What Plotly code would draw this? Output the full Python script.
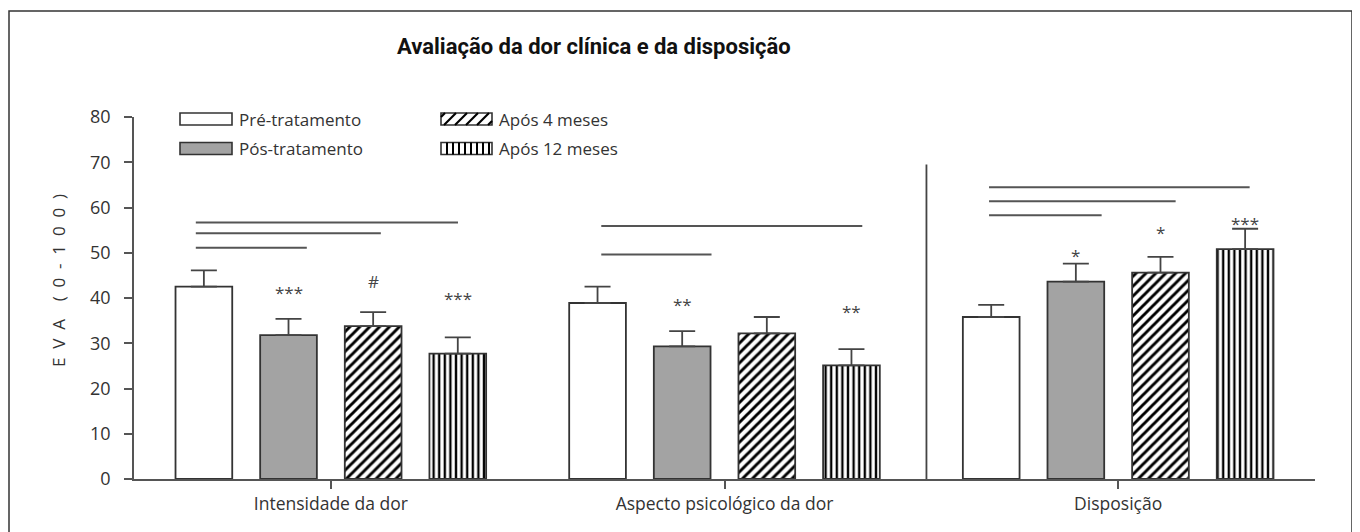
import plotly.graph_objects as go

# ---------------- data ----------------
categories = ["Intensidade da dor", "Aspecto psicológico da dor", "Disposição"]
series_names = ["Pré-tratamento", "Pós-tratamento", "Após 4 meses", "Após 12 meses"]

pre_vals = [42.5, 38.9, 35.8]
pos_vals = [31.8, 29.3, 43.6]
m4_vals = [33.8, 32.2, 45.6]
m12_vals = [27.7, 25.1, 50.8]

pre_err = [3.6, 3.6, 2.7]
pos_err = [3.6, 3.4, 4.0]
m4_err = [3.1, 3.6, 3.5]
m12_err = [3.6, 3.6, 4.5]

# significance marks above bars (per category)
pos_marks = ["***", "**", "*"]
m4_marks = ["#", "", "*"]
m12_marks = ["***", "**", "***"]
pos_mark_y = [41.2, 38.6, 49.4]
m4_mark_y = [43.7, None, 54.4]
m12_mark_y = [40.0, 37.0, 56.5]

# comparison lines: (start x, end x, y) in category units
cmp_x0 = [-0.343, -0.343, -0.343, 0.687, 0.687, 1.672, 1.672, 1.672]
cmp_x1 = [-0.061, 0.127, 0.323, 0.967, 1.350, 1.958, 2.146, 2.334]
cmp_y = [51.1, 54.3, 56.7, 49.6, 55.9, 58.3, 61.4, 64.5]

separator_x = 1.513
separator_top = 69.5

y_ticks = [0, 10, 20, 30, 40, 50, 60, 70, 80]

# ---------------- style ----------------
FONT = "Open Sans, Noto Sans, sans-serif"
TFONT = "Roboto, Open Sans, sans-serif"
TXT = "#333333"
EDGE = "#333333"
GREY = "#a3a3a3"

OFF = 8  # page body margin
L, R, T, B = 134 - OFF, 1315 - OFF, 117 - OFF, 479 - OFF
W, H = R - L, B - T


def px(x):
    return (x - OFF - L) / W


def py(y):
    return (B - (y - OFF)) / H


fig = go.Figure()

vals = [pre_vals, pos_vals, m4_vals, m12_vals]
errs = [pre_err, pos_err, m4_err, m12_err]
patterns = [
    dict(shape=""),
    dict(shape=""),
    dict(shape="/", fgcolor="#000000", bgcolor="white", size=7, solidity=0.42, fgopacity=1),
    dict(shape="|", fgcolor="#000000", bgcolor="white", size=5.6, solidity=0.42, fgopacity=1),
]
fills = ["white", GREY, "white", "white"]

for i in range(4):
    fig.add_trace(go.Bar(
        x=categories, y=vals[i], name=series_names[i],
        marker=dict(color=fills[i], line=dict(color=EDGE, width=1.8), pattern=patterns[i]),
        error_y=dict(type="data", symmetric=False, array=errs[i], arrayminus=[0] * 3,
                     color="#444444", thickness=1.8, width=13),
        showlegend=False,
    ))

BARGAP = 0.14
slot = (1 - BARGAP) / 4
offsets = [-(1 - BARGAP) / 2 + slot * (i + 0.5) for i in range(4)]

annotations = []
for si, (marks, ys) in zip([1, 2, 3], [(pos_marks, pos_mark_y), (m4_marks, m4_mark_y), (m12_marks, m12_mark_y)]):
    for ci in range(3):
        if marks[ci] and ys[ci] is not None:
            annotations.append(dict(
                x=ci + offsets[si], y=ys[ci], xref="x", yref="y",
                text=marks[ci], showarrow=False,
                font=dict(family=FONT, size=17, color="#444444"),
                yanchor="middle"))

shapes = []
for x0, x1, y in zip(cmp_x0, cmp_x1, cmp_y):
    shapes.append(dict(type="line", xref="x", yref="y", x0=x0, x1=x1, y0=y, y1=y,
                       line=dict(color="#555555", width=2)))
shapes.append(dict(type="line", xref="x", yref="y", x0=separator_x, x1=separator_x,
                   y0=0, y1=separator_top, line=dict(color="#444444", width=1.8)))

# outer frame
shapes.append(dict(type="rect", xref="paper", yref="paper", x0=px(9), x1=px(1352),
                   y0=py(560), y1=py(11), line=dict(color="#333333", width=1.5)))

# ---- legend (drawn manually) ----
sw = [(180, 232, 113, 125), (180, 232, 142.5, 154.5), (441, 492, 113, 125), (441, 492, 142.5, 154.5)]
for i, (x0, x1, y0, y1) in enumerate(sw):
    shapes.append(dict(type="rect", xref="paper", yref="paper", x0=px(x0), x1=px(x1),
                       y0=py(y1), y1=py(y0), fillcolor=fills[i],
                       line=dict(color=EDGE, width=1.6)))
# diagonal hatching for 4-month swatch
x0, x1, y0, y1 = sw[2]
h = y1 - y0
xs = x0 - h + 4
while xs < x1:
    a = xs
    t0 = max(0.0, (x0 - a) / h)
    t1 = min(1.0, (x1 - a) / h)
    if t1 > t0:
        shapes.append(dict(type="line", xref="paper", yref="paper",
                           x0=px(a + h * t0), y0=py(y1 - h * t0),
                           x1=px(a + h * t1), y1=py(y1 - h * t1),
                           line=dict(color="#000000", width=2.2)))
    xs += 11
# vertical hatching for 12-month swatch
x0, x1, y0, y1 = sw[3]
xv = x0 + 6
while xv < x1 - 1:
    shapes.append(dict(type="line", xref="paper", yref="paper", x0=px(xv), x1=px(xv),
                       y0=py(y1), y1=py(y0), line=dict(color="#000000", width=2)))
    xv += 6

for i, (x0, x1, y0, y1) in enumerate(sw):
    annotations.append(dict(x=px(x1 + 5), y=py((y0 + y1) / 2), xref="paper", yref="paper",
                            text=series_names[i], showarrow=False, xanchor="left", yanchor="middle",
                            font=dict(family=FONT, size=17, color=TXT)))

# title
annotations.append(dict(x=px(594), y=py(46), xref="paper", yref="paper",
                        text="<b>Avaliação da dor clínica e da disposição</b>", showarrow=False,
                        xanchor="center", yanchor="middle",
                        font=dict(family=TFONT, size=22, color="#111111")))
# y axis title
sp = "&nbsp;&nbsp;"
ytitle = sp.join(["E", "V", "A"]) + "&nbsp;" * 4 + sp.join(list("(0-100)"))
annotations.append(dict(x=px(58), y=py(281), xref="paper", yref="paper",
                        text=ytitle, showarrow=False, textangle=-90,
                        xanchor="center", yanchor="middle",
                        font=dict(family=FONT, size=17, color=TXT)))

fig.update_layout(
    width=1360, height=532,
    margin=dict(l=L, r=1360 - R, t=T, b=532 - B),
    paper_bgcolor="white", plot_bgcolor="white",
    barmode="group", bargap=BARGAP, bargroupgap=0.33,
    font=dict(family=FONT, size=18, color=TXT),
    xaxis=dict(type="category", range=[-0.5, 2.5], showline=True, linecolor="#555555", linewidth=1.8,
               ticks="outside", ticklen=8, tickwidth=1.6, tickcolor="#555555",
               showgrid=False, zeroline=False, tickfont=dict(family=FONT, size=17.5, color=TXT)),
    yaxis=dict(range=[0, 80], tickvals=y_ticks, showline=True, linecolor="#555555", linewidth=1.8,
               ticks="outside", ticklen=8, tickwidth=1.6, tickcolor="#555555", ticklabelstandoff=10,
               showgrid=False, zeroline=False, tickfont=dict(family=FONT, size=18, color=TXT)),
    shapes=shapes, annotations=annotations,
)

fig.write_html("out.html")
